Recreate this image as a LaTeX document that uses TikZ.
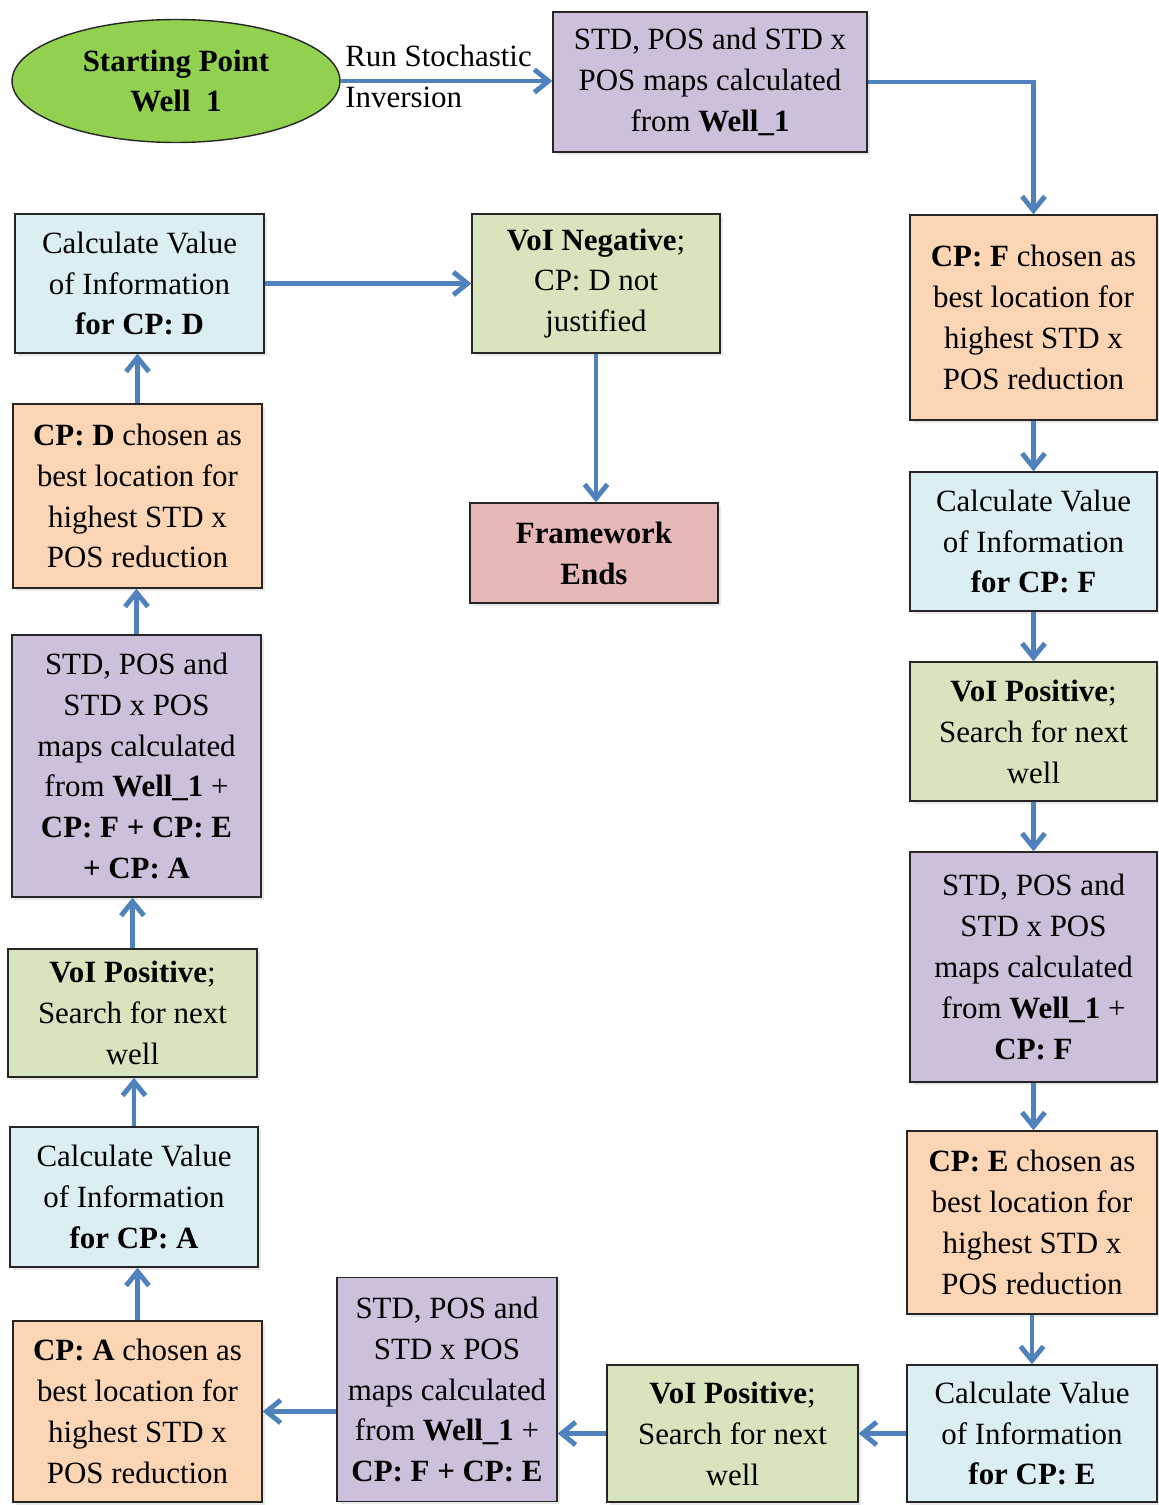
\documentclass[tikz,border=0pt]{standalone}
\usepackage{fontspec}
\setmainfont{Liberation Serif}
\usepackage{xcolor}
\usepackage{tikz}
\usetikzlibrary{arrows.meta,shapes.geometric,shadows}

\definecolor{startgreen}{RGB}{146,208,80}
\definecolor{mapviolet}{RGB}{204,192,218}
\definecolor{pickorange}{RGB}{252,213,181}
\definecolor{calcblue}{RGB}{219,238,244}
\definecolor{voigreen}{RGB}{215,228,189}
\definecolor{endred}{RGB}{230,185,184}
\definecolor{flowblue}{RGB}{79,129,189}

\newcommand{\boxfont}{\fontsize{17.6}{23.3}\selectfont}

\tikzset{
  box/.style={draw=black!85, line width=0.8pt, rectangle, align=center, inner sep=0pt, font=\boxfont,
    drop shadow={opacity=0.18, shadow xshift=1.5pt, shadow yshift=-1.5pt}},
  mapbox/.style={box, fill=mapviolet},
  pickbox/.style={box, fill=pickorange},
  calcbox/.style={box, fill=calcblue},
  voibox/.style={box, fill=voigreen},
  endbox/.style={box, fill=endred},
  flow/.style={-{Straight Barb[length=8pt,width=13pt]}, line width=2.8pt, color=flowblue}
}

\begin{document}
\begin{tikzpicture}[x=0.02cm, y=-0.02cm]
\useasboundingbox (0,0) rectangle (1159,1505);

\node[ellipse, draw=black!85, line width=0.8pt, fill=startgreen, minimum width=6.56cm, minimum height=2.46cm, align=center, font=\boxfont\bfseries] (start) at (176,81) {Starting Point\\Well\ \ 1};
\node[anchor=west, align=left, inner sep=0pt, font=\boxfont] (runlbl) at (345,76.5) {Run Stochastic\\Inversion};
\node[mapbox, minimum width=6.28cm, minimum height=2.8cm] (map0) at (710,82) {STD, POS and STD x\\POS maps calculated\\from \textbf{Well\_1}};

% right column, going down
\node[pickbox, minimum width=4.94cm, minimum height=4.1cm] (pickF) at (1033.5,317.5) {\textbf{CP: F} chosen as\\best location for\\highest STD x\\POS reduction};
\node[calcbox, minimum width=4.94cm, minimum height=2.78cm] (calcF) at (1033.5,541.5) {Calculate Value\\of Information\\\textbf{for CP: F}};
\node[voibox, minimum width=4.94cm, minimum height=2.78cm] (voiF) at (1033.5,731.5) {\textbf{VoI Positive};\\Search for next\\well};
\node[mapbox, minimum width=4.94cm, minimum height=4.6cm] (mapF) at (1033.5,967) {STD, POS and\\STD x POS\\maps calculated\\from \textbf{Well\_1} +\\\textbf{CP: F}};
\node[pickbox, minimum width=5cm, minimum height=3.66cm] (pickE) at (1032,1222.5) {\textbf{CP: E} chosen as\\best location for\\highest STD x\\POS reduction};
\node[calcbox, minimum width=5cm, minimum height=2.74cm] (calcE) at (1032,1433.5) {Calculate Value\\of Information\\\textbf{for CP: E}};

% bottom row, going left
\node[voibox, minimum width=5.02cm, minimum height=2.74cm] (voiE) at (732.5,1433.5) {\textbf{VoI Positive};\\Search for next\\well};
\node[mapbox, minimum width=4.4cm, minimum height=4.48cm] (mapE) at (447,1389.5) {STD, POS and\\STD x POS\\maps calculated\\from \textbf{Well\_1} +\\\textbf{CP: F + CP: E}};
\node[pickbox, minimum width=4.98cm, minimum height=3.62cm] (pickA) at (137.5,1411.5) {\textbf{CP: A} chosen as\\best location for\\highest STD x\\POS reduction};

% left column, going up
\node[calcbox, minimum width=4.96cm, minimum height=2.8cm] (calcA) at (134,1197) {Calculate Value\\of Information\\\textbf{for CP: A}};
\node[voibox, minimum width=4.98cm, minimum height=2.56cm] (voiA) at (132.5,1013) {\textbf{VoI Positive};\\Search for next\\well};
\node[mapbox, minimum width=4.98cm, minimum height=5.24cm] (mapA) at (136.5,766) {STD, POS and\\STD x POS\\maps calculated\\from \textbf{Well\_1} +\\\textbf{CP: F + CP: E}\\\textbf{+ CP: A}};
\node[pickbox, minimum width=4.98cm, minimum height=3.68cm] (pickD) at (137.5,496) {\textbf{CP: D} chosen as\\best location for\\highest STD x\\POS reduction};
\node[calcbox, minimum width=4.98cm, minimum height=2.78cm] (calcD) at (139.5,283.5) {Calculate Value\\of Information\\\textbf{for CP: D}};

% the stop
\node[voibox, minimum width=4.96cm, minimum height=2.78cm] (negD) at (596,283.5) {\textbf{VoI Negative};\\CP: D not\\justified};
\node[endbox, minimum width=4.96cm, minimum height=2cm, font=\boxfont\bfseries] (ends) at (594,553) {Framework\\Ends};

\draw[flow] (start.east) -- (start.east -| map0.west);
\draw[flow] (map0.east) -| (pickF.north);
\draw[flow] (pickF) -- (calcF);
\draw[flow] (calcF) -- (voiF);
\draw[flow] (voiF) -- (mapF);
\draw[flow] (mapF.south) -- (mapF.south |- pickE.north);
\draw[flow] (pickE) -- (calcE);
\draw[flow] (calcE.west) -- (calcE.west -| voiE.east);
\draw[flow] (voiE.west) -- (voiE.west -| mapE.east);
\draw[flow] (mapE.west |- pickA.east) -- (pickA.east);
\draw[flow] (pickA.north) -- (pickA.north |- calcA.south);
\draw[flow] (calcA.north) -- (calcA.north |- voiA.south);
\draw[flow] (voiA.north) -- (voiA.north |- mapA.south);
\draw[flow] (mapA.north) -- (mapA.north |- pickD.south);
\draw[flow] (pickD.north) -- (pickD.north |- calcD.south);
\draw[flow] (calcD.east) -- (calcD.east -| negD.west);
\draw[flow] (negD.south) -- (negD.south |- ends.north);

\end{tikzpicture}
\end{document}
